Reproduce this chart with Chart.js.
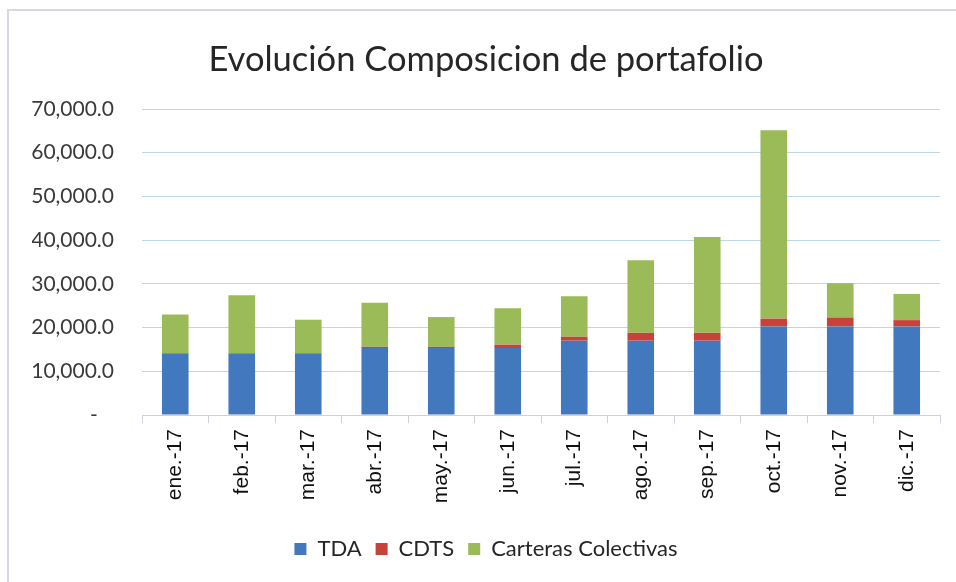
<!DOCTYPE html>
<html>
<head>
<meta charset="utf-8">
<script src="https://cdn.jsdelivr.net/npm/chart.js@4.4.1/dist/chart.umd.min.js"></script>
<style>
  html, body { margin: 0; padding: 0; background: #ffffff; }
  #wrap { position: absolute; left: 0; top: 0; width: 956px; height: 582px; }
  #frame { position: absolute; left: 7px; top: 9px; width: 949px; height: 573px;
           border-left: 2px solid #d3d9de; border-top: 2px solid #d3d9de; box-sizing: border-box; }
  canvas { position: absolute; left: 0; top: 0; }
</style>
</head>
<body>
<div id="wrap">
  <div id="frame"></div>
  <canvas id="c" width="956" height="582"></canvas>
</div>
<script>
const categories = ['ene.-17','feb.-17','mar.-17','abr.-17','may.-17','jun.-17','jul.-17','ago.-17','sep.-17','oct.-17','nov.-17','dic.-17'];
const tda = [14100, 14100, 14100, 15300, 15300, 15300, 17000, 17000, 17000, 20250, 20250, 20250];
const cdts = [0, 0, 0, 300, 300, 800, 900, 1800, 1800, 1800, 2050, 1450];
const carteras = [8900, 13300, 7700, 10050, 6800, 8300, 9270, 16600, 21900, 43100, 7850, 6000];
const yTicks = [0, 10000, 20000, 30000, 40000, 50000, 60000, 70000];
const titleText = 'Evolución Composicion de portafolio';

const ctx = document.getElementById('c').getContext('2d');
new Chart(ctx, {
  type: 'bar',
  data: {
    labels: categories,
    datasets: [
      { label: 'TDA', data: tda, backgroundColor: '#4278BE' },
      { label: 'CDTS', data: cdts, backgroundColor: '#C9423A' },
      { label: 'Carteras Colectivas', data: carteras, backgroundColor: '#9BBB59' }
    ]
  },
  options: {
    responsive: false,
    animation: false,
    devicePixelRatio: 1,
    layout: { padding: { left: 32, right: 16, top: 0, bottom: 12 } },
    datasets: { bar: { barPercentage: 0.4, categoryPercentage: 1.0 } },
    plugins: {
      title: {
        display: true,
        text: titleText,
        color: '#262626',
        font: { family: 'Lato', size: 34.5, weight: 'normal' },
        padding: { top: 39, bottom: 28.6 }
      },
      legend: {
        position: 'bottom',
        labels: {
          color: '#262626',
          font: { family: 'Lato', size: 22 },
          boxWidth: 12, boxHeight: 12,
          padding: 14
        }
      },
      tooltip: { enabled: false }
    },
    scales: {
      x: {
        stacked: true,
        grid: { display: true, drawOnChartArea: false, drawTicks: true, tickLength: 8, color: '#c8d3dd', offset: true },
        border: { display: true, color: '#c8d3dd', width: 1 },
        ticks: {
          color: '#111111',
          font: { family: 'Liberation Sans', size: 21 },
          minRotation: 90, maxRotation: 90,
          padding: 6,
          autoSkip: false
        },
        afterFit: (s) => { s.height = 109; }
      },
      y: {
        stacked: true,
        min: 0, max: 70000,
        afterBuildTicks: (s) => { s.ticks = yTicks.map(v => ({ value: v })); },
        grid: { color: '#bcd6ec', drawTicks: false, lineWidth: 1 },
        border: { display: false },
        ticks: {
          color: '#3a3a3a',
          font: { family: 'Lato', size: 21 },
          padding: 28,
          callback: (v) => v === 0 ? '-   ' : v.toLocaleString('en-US', { minimumFractionDigits: 1, maximumFractionDigits: 1 })
        },
        afterFit: (s) => { s.width = 110; }
      }
    }
  }
});
</script>
</body>
</html>
